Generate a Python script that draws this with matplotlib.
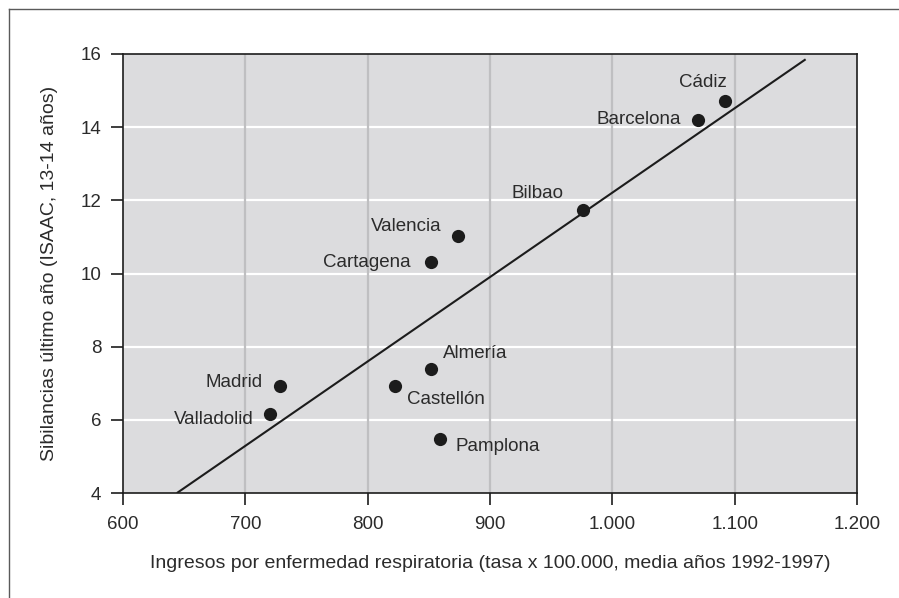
"""Scatter: sibilancias vs ingresos por enfermedad respiratoria."""
import matplotlib

matplotlib.use("Agg")
import matplotlib.pyplot as plt
from matplotlib.lines import Line2D
import numpy as np

# %% Data
cities = ["Cádiz", "Barcelona", "Bilbao", "Valencia", "Cartagena",
          "Almería", "Castellón", "Pamplona", "Madrid", "Valladolid"]
ingresos = [1092, 1070, 976, 874, 852, 852, 822, 859, 728, 720]
sibilancias = [14.71, 14.20, 11.74, 11.02, 10.31, 7.39, 6.92, 5.48, 6.92, 6.16]

# regression line
fit_x = [644, 1158]
fit_slope = 0.02307
fit_intercept = -10.86

x_ticks = [600, 700, 800, 900, 1000, 1100, 1200]
x_ticklabels = ["600", "700", "800", "900", "1.000", "1.100", "1.200"]
y_ticks = [4, 6, 8, 10, 12, 14, 16]

xlabel = "Ingresos por enfermedad respiratoria (tasa x 100.000, media años 1992-1997)"
ylabel = "Sibilancias último año (ISAAC, 13-14 años)"

# label placement: (dx px, dy px, ha)
label_pos = {
    "Cádiz": (-22, 19, "center"),
    "Barcelona": (-17, 0, "right"),
    "Bilbao": (-19, 16, "right"),
    "Valencia": (-17, 10, "right"),
    "Cartagena": (-21, 0, "right"),
    "Almería": (12, 15, "left"),
    "Castellón": (12, -13, "left"),
    "Pamplona": (16, -8, "left"),
    "Madrid": (-17, 4, "right"),
    "Valladolid": (-16, -6, "right"),
}

# %% Style
plt.rcParams["font.family"] = ["Liberation Sans", "DejaVu Sans"]
fs = 13.5
txt_col = "#2b2b2b"
dark = "#1c1c1c"

fig = plt.figure(figsize=(8.99, 5.98), dpi=100)
ax = fig.add_axes([123 / 899, 1 - 493 / 598, 734 / 899, 439 / 598])
ax.set_facecolor("#dcdcde")

ax.set_xlim(600, 1200)
ax.set_ylim(4, 16)

# grid: white horizontal, gray vertical
for yv in y_ticks[1:-1]:
    ax.axhline(yv, color="white", lw=1.6, zorder=1)
for xv in x_ticks[1:-1]:
    ax.axvline(xv, color="#bfbfc1", lw=1.6, zorder=1)

# regression line
fx = np.array(fit_x, dtype=float)
ax.plot(fx, fit_intercept + fit_slope * fx, color=dark, lw=1.5, zorder=3,
        solid_capstyle="butt")

# points
ax.plot(ingresos, sibilancias, "o", color=dark, markersize=9.5, zorder=4,
        markeredgewidth=0)

for name, xv, yv in zip(cities, ingresos, sibilancias):
    dx, dy, ha = label_pos[name]
    ax.annotate(name, (xv, yv), xytext=(dx, dy), textcoords="offset pixels",
                ha=ha, va="center", color=txt_col, fontsize=fs, zorder=5)

ax.set_xticks(x_ticks)
ax.set_xticklabels(x_ticklabels)
ax.set_yticks(y_ticks)
ax.tick_params(direction="out", length=8.5, width=1.2, color=dark,
               labelcolor=txt_col, labelsize=fs)
ax.tick_params(axis="y", pad=7)
ax.tick_params(axis="x", pad=8)

for sp in ax.spines.values():
    sp.set_color(dark)
    sp.set_linewidth(1.2)

fig.text(50 / 899, 1 - 273.5 / 598, ylabel, rotation=90, ha="center",
         va="center", color=txt_col, fontsize=14)
fig.text(490 / 899, 1 - 563 / 598, xlabel, ha="center", va="center",
         color=txt_col, fontsize=14)

# outer frame (left and top edges)
frame_col = "#5a5a5a"
fig.add_artist(Line2D([8.5 / 899, 8.5 / 899], [0, 1 - 9 / 598],
                      transform=fig.transFigure, color=frame_col, lw=1))
fig.add_artist(Line2D([8.5 / 899, 1], [1 - 9 / 598, 1 - 9 / 598],
                      transform=fig.transFigure, color=frame_col, lw=1))

fig.savefig("out.png", dpi=100)
